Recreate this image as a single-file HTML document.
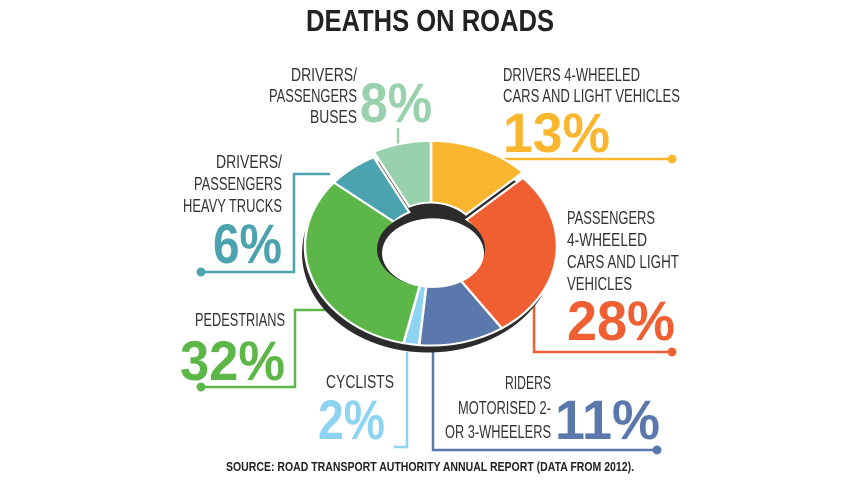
<!DOCTYPE html>
<html><head><meta charset="utf-8"><style>
html,body{margin:0;padding:0;background:#fff;width:857px;height:482px;overflow:hidden}
text{font-family:"Liberation Sans Narrow","Liberation Sans",sans-serif}
.l{font-size:18px;fill:#333}
.b{font-size:56px;font-weight:bold}
</style></head><body>
<svg width="857" height="482" viewBox="0 0 857 482" xmlns="http://www.w3.org/2000/svg">
<text x="430" y="31" text-anchor="middle" font-size="31" font-weight="bold" fill="#222" textLength="248" lengthAdjust="spacingAndGlyphs">DEATHS ON ROADS</text>

<g fill="none" stroke-width="2.5">
<polyline points="432,159 672,159" stroke="#fbb62f"/>
<polyline points="398,128 398,148" stroke="#98d1ac"/>
<polyline points="330,174 294,174 294,272 201,272" stroke="#4aa3ae"/>
<polyline points="330,310 295,310 295,387 201,387" stroke="#5cb748"/>
<polyline points="407,352 407,447 394,447" stroke="#8fd3f2"/>
<polyline points="433,352 433,450 657,450" stroke="#5a78ab"/>
<polyline points="534,300 534,352 672,352" stroke="#f05f32"/>
</g>
<g>
<circle cx="672" cy="159" r="4.5" fill="#fbb62f"/>
<circle cx="201" cy="272" r="4.5" fill="#4aa3ae"/>
<circle cx="201" cy="387" r="4.5" fill="#5cb748"/>
<circle cx="657" cy="450" r="4.5" fill="#5a78ab"/>
<circle cx="672" cy="352" r="4.5" fill="#f05f32"/>
</g>

<g id="d">
<g transform="translate(428,253) scale(1,0.79)">
<circle r="126" fill="#2b2b2b"/>
</g>
<g transform="translate(431,246) scale(1,0.79)" stroke="#fff" stroke-width="2.5">
<path id="s" d="" />
</g>
</g>
<script>
(function(){
var segs=[[0,0.13,"#fbb62f"],[0.13,0.405,"#f05f32"],[0.405,0.515,"#5a78ab"],[0.515,0.535,"#8fd3f2"],[0.535,0.86,"#5cb748"],[0.86,0.925,"#4aa3ae"],[0.925,1,"#98d1ac"]];
var g=document.querySelector('#d g:nth-child(2)');
var R=126,r=48,ns="http://www.w3.org/2000/svg";
function p(f,rad){var a=f*2*Math.PI-Math.PI/2;return (rad*Math.cos(a)).toFixed(2)+","+(rad*Math.sin(a)).toFixed(2);}
segs.forEach(function(s){
 var big=(s[1]-s[0])>0.5?1:0;
 var d="M"+p(s[0],R)+" A"+R+","+R+" 0 "+big+" 1 "+p(s[1],R)+" L"+p(s[1],r)+" A"+r+","+r+" 0 "+big+" 0 "+p(s[0],r)+"Z";
 var el=document.createElementNS(ns,"path");el.setAttribute("d",d);el.setAttribute("fill",s[2]);
 var up=(s[0]>=0.92||s[1]<=0.14)?-7:0;
 if(up)el.setAttribute("transform","translate(0,"+up+")");
 g.appendChild(el);
});
var h=document.createElementNS(ns,"ellipse");
h.setAttribute("cx",0);h.setAttribute("cy",4);h.setAttribute("rx",54);h.setAttribute("ry",48);h.setAttribute("fill","#2b2b2b");h.setAttribute("stroke","none");
g.appendChild(h);
var h2=document.createElementNS(ns,"ellipse");
h2.setAttribute("cx",2);h2.setAttribute("cy",9);h2.setAttribute("rx",51);h2.setAttribute("ry",44);h2.setAttribute("fill","#fff");h2.setAttribute("stroke","none");
g.appendChild(h2);
})();
</script>

<g>
<text class="l" x="357" y="81" text-anchor="end" textLength="66" lengthAdjust="spacingAndGlyphs">DRIVERS/</text>
<text class="l" x="357" y="102" text-anchor="end" textLength="88" lengthAdjust="spacingAndGlyphs">PASSENGERS</text>
<text class="l" x="357" y="123" text-anchor="end" textLength="47" lengthAdjust="spacingAndGlyphs">BUSES</text>
<text class="l" x="503" y="81" textLength="137" lengthAdjust="spacingAndGlyphs">DRIVERS 4-WHEELED</text>
<text class="l" x="503" y="102" textLength="177" lengthAdjust="spacingAndGlyphs">CARS AND LIGHT VEHICLES</text>
<text class="l" x="282" y="168" text-anchor="end" textLength="66" lengthAdjust="spacingAndGlyphs">DRIVERS/</text>
<text class="l" x="282" y="190" text-anchor="end" textLength="88" lengthAdjust="spacingAndGlyphs">PASSENGERS</text>
<text class="l" x="282" y="212" text-anchor="end" textLength="99" lengthAdjust="spacingAndGlyphs">HEAVY TRUCKS</text>
<text class="l" x="567" y="224" textLength="88" lengthAdjust="spacingAndGlyphs">PASSENGERS</text>
<text class="l" x="567" y="246" textLength="80" lengthAdjust="spacingAndGlyphs">4-WHEELED</text>
<text class="l" x="567" y="268" textLength="112" lengthAdjust="spacingAndGlyphs">CARS AND LIGHT</text>
<text class="l" x="567" y="290" textLength="65" lengthAdjust="spacingAndGlyphs">VEHICLES</text>
<text class="l" x="285" y="326" text-anchor="end" textLength="90" lengthAdjust="spacingAndGlyphs">PEDESTRIANS</text>
<text class="l" x="326" y="388" textLength="68" lengthAdjust="spacingAndGlyphs">CYCLISTS</text>
<text class="l" x="551" y="389" text-anchor="end" textLength="46" lengthAdjust="spacingAndGlyphs">RIDERS</text>
<text class="l" x="551" y="414" text-anchor="end" textLength="93" lengthAdjust="spacingAndGlyphs">MOTORISED 2-</text>
<text class="l" x="551" y="438" text-anchor="end" textLength="106" lengthAdjust="spacingAndGlyphs">OR 3-WHEELERS</text>
</g>
<text class="b" x="360" y="122" fill="#98d1ac" textLength="72" lengthAdjust="spacingAndGlyphs">8%</text>
<text class="b" x="503" y="152" fill="#fbb62f" textLength="107" lengthAdjust="spacingAndGlyphs">13%</text>
<text class="b" x="213" y="263" fill="#4aa3ae" textLength="69" lengthAdjust="spacingAndGlyphs">6%</text>
<text class="b" x="567" y="340" fill="#f05f32" textLength="108" lengthAdjust="spacingAndGlyphs">28%</text>
<text class="b" x="180" y="380" fill="#5cb748" textLength="105" lengthAdjust="spacingAndGlyphs">32%</text>
<text class="b" x="318" y="439" fill="#8fd3f2" textLength="67" lengthAdjust="spacingAndGlyphs">2%</text>
<text class="b" x="555" y="439" fill="#5a78ab" textLength="105" lengthAdjust="spacingAndGlyphs">11%</text>

<text x="430" y="471" text-anchor="middle" font-size="13" font-weight="bold" fill="#222" textLength="408" lengthAdjust="spacingAndGlyphs">SOURCE: ROAD TRANSPORT AUTHORITY ANNUAL REPORT (DATA FROM 2012).</text>
</svg>
</body></html>
